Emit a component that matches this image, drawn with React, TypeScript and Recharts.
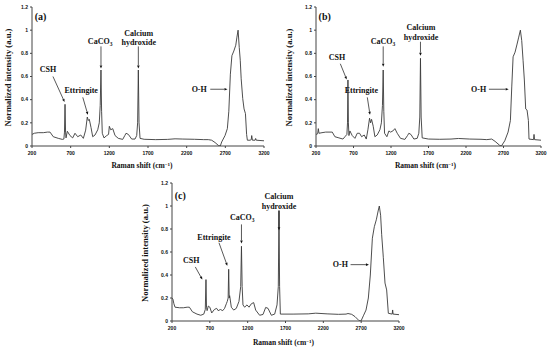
import { LineChart, Line, XAxis, YAxis, ReferenceLine, ReferenceDot } from 'recharts'

const SHIFT_TICKS = [200, 700, 1200, 1700, 2200, 2700, 3200]
const INTENSITY_TICKS = [0, 0.2, 0.4, 0.6, 0.8, 1, 1.2]

// Raman shift (cm-1), normalized intensity
const spectrumA: [number, number][] = [
  [200, 0.1], [230, 0.11], [280, 0.115], [346, 0.115], [400, 0.12], [433, 0.12], [475, 0.08],
  [540, 0.066], [592, 0.057], [612, 0.06], [620, 0.12], [627, 0.36], [634, 0.12], [640, 0.07],
  [657, 0.127], [691, 0.09], [726, 0.07], [756, 0.11], [791, 0.08], [830, 0.095], [864, 0.066],
  [894, 0.137], [915, 0.25], [928, 0.22], [941, 0.23], [963, 0.16], [985, 0.08], [1015, 0.095],
  [1050, 0.14], [1070, 0.2], [1082, 0.35], [1092, 0.656], [1100, 0.3], [1109, 0.11], [1131, 0.07],
  [1166, 0.09], [1190, 0.1], [1200, 0.17], [1218, 0.14], [1244, 0.15], [1274, 0.09], [1316, 0.066],
  [1373, 0.057], [1400, 0.09], [1416, 0.11], [1446, 0.1], [1489, 0.06], [1532, 0.06], [1554, 0.09],
  [1566, 0.2], [1575, 0.656], [1584, 0.2], [1597, 0.066], [1650, 0.058], [1800, 0.055], [1950, 0.057],
  [2050, 0.062], [2150, 0.06], [2300, 0.058], [2420, 0.055], [2480, 0.055], [2523, 0.05], [2567, 0.03],
  [2610, 0.005], [2635, 0], [2653, 0.035], [2696, 0.09], [2726, 0.15], [2745, 0.3], [2765, 0.62],
  [2785, 0.78], [2810, 0.82], [2835, 0.87], [2850, 0.94], [2865, 1.0], [2880, 0.85], [2893, 0.74],
  [2905, 0.58], [2925, 0.41], [2942, 0.32], [2960, 0.28], [2975, 0.1], [2985, 0.05], [3020, 0.05],
  [3035, 0.055], [3041, 0.09], [3050, 0.05], [3085, 0.05], [3092, 0.065], [3100, 0.05], [3200, 0.045],
]

const spectrumB: [number, number][] = [
  [200, 0.1], [222, 0.105], [231, 0.15], [240, 0.11], [280, 0.115], [328, 0.12], [417, 0.12],
  [452, 0.08], [506, 0.07], [559, 0.06], [586, 0.08], [612, 0.1], [620, 0.2], [626, 0.57], [632, 0.2],
  [639, 0.09], [652, 0.13], [683, 0.09], [719, 0.066], [750, 0.11], [781, 0.11], [808, 0.08],
  [843, 0.095], [870, 0.06], [892, 0.14], [914, 0.24], [928, 0.2], [941, 0.23], [963, 0.17],
  [985, 0.08], [1016, 0.095], [1052, 0.14], [1072, 0.2], [1086, 0.35], [1096, 0.656], [1104, 0.3],
  [1114, 0.11], [1145, 0.08], [1172, 0.13], [1194, 0.12], [1225, 0.13], [1252, 0.15], [1283, 0.11],
  [1327, 0.066], [1385, 0.057], [1420, 0.09], [1438, 0.11], [1465, 0.1], [1505, 0.06], [1549, 0.066],
  [1571, 0.11], [1584, 0.25], [1593, 0.757], [1602, 0.25], [1616, 0.07], [1700, 0.06], [1850, 0.058],
  [2000, 0.06], [2100, 0.065], [2250, 0.06], [2400, 0.058], [2477, 0.055], [2543, 0.06], [2588, 0.04],
  [2650, 0.005], [2672, 0], [2717, 0.045], [2761, 0.12], [2792, 0.22], [2810, 0.51], [2828, 0.77],
  [2854, 0.81], [2881, 0.88], [2903, 0.94], [2925, 1.0], [2943, 0.91], [2961, 0.74], [2978, 0.57],
  [2996, 0.32], [3014, 0.31], [3032, 0.22], [3040, 0.06], [3100, 0.055], [3107, 0.1], [3114, 0.055],
  [3200, 0.05],
]

const spectrumC: [number, number][] = [
  [200, 0.2], [212, 0.19], [225, 0.15], [240, 0.12], [300, 0.115], [350, 0.115], [400, 0.12],
  [430, 0.12], [470, 0.08], [530, 0.06], [580, 0.05], [620, 0.06], [640, 0.1], [649, 0.36],
  [656, 0.12], [664, 0.09], [680, 0.13], [700, 0.12], [725, 0.07], [760, 0.1], [790, 0.11],
  [810, 0.09], [840, 0.1], [870, 0.09], [895, 0.11], [918, 0.15], [930, 0.17], [942, 0.2],
  [949, 0.45], [956, 0.2], [962, 0.22], [984, 0.12], [1015, 0.095], [1050, 0.11], [1085, 0.17],
  [1108, 0.3], [1118, 0.65], [1127, 0.3], [1138, 0.14], [1160, 0.12], [1191, 0.14], [1218, 0.12],
  [1249, 0.15], [1279, 0.16], [1306, 0.095], [1358, 0.05], [1403, 0.057], [1438, 0.118], [1469, 0.11],
  [1513, 0.05], [1557, 0.06], [1588, 0.14], [1605, 0.3], [1614, 0.96], [1622, 0.3], [1632, 0.06],
  [1800, 0.06], [2000, 0.062], [2100, 0.068], [2250, 0.062], [2400, 0.058], [2500, 0.06],
  [2526, 0.065], [2575, 0.058], [2619, 0.038], [2672, 0.003], [2698, 0], [2729, 0.045], [2764, 0.095],
  [2795, 0.2], [2821, 0.4], [2848, 0.72], [2874, 0.82], [2900, 0.88], [2927, 0.965], [2940, 1.0],
  [2957, 0.92], [2971, 0.75], [2993, 0.55], [3015, 0.33], [3037, 0.27], [3059, 0.067], [3110, 0.06],
  [3116, 0.096], [3122, 0.06], [3200, 0.055],
]

type Note = { x: number; y: number; text: string }
type Arrow = [[number, number], [number, number]]

const notesA: Note[] = [
  { x: 310, y: 1.12, text: '(a)' }, { x: 406, y: 0.66, text: 'CSH' }, { x: 836, y: 0.48, text: 'Ettringite' },
  { x: 1081, y: 0.9, text: 'CaCO3' }, { x: 1580, y: 0.97, text: 'Calcium' }, { x: 1580, y: 0.89, text: 'hydroxide' },
  { x: 2362, y: 0.49, text: 'O-H' },
]
const arrowsA: Arrow[] = [
  [[471, 0.6], [621, 0.38]], [[857, 0.42], [922, 0.27]], [[1092, 0.86], [1092, 0.67]],
  [[1575, 0.86], [1575, 0.67]], [[2505, 0.49], [2728, 0.49]],
]

const notesB: Note[] = [
  { x: 316, y: 1.12, text: '(b)' }, { x: 480, y: 0.766, text: 'CSH' }, { x: 804, y: 0.48, text: 'Ettringite' },
  { x: 1093, y: 0.9, text: 'CaCO3' }, { x: 1600, y: 1.02, text: 'Calcium' }, { x: 1600, y: 0.94, text: 'hydroxide' },
  { x: 2369, y: 0.49, text: 'O-H' },
]
const arrowsB: Arrow[] = [
  [[524, 0.71], [609, 0.575]], [[884, 0.42], [920, 0.27]], [[1096, 0.86], [1096, 0.685]],
  [[1593, 0.9], [1593, 0.78]], [[2505, 0.49], [2769, 0.49]],
]

const notesC: Note[] = [
  { x: 310, y: 1.095, text: '(c)' }, { x: 455, y: 0.53, text: 'CSH' }, { x: 755, y: 0.73, text: 'Ettringite' },
  { x: 1129, y: 0.9, text: 'CaCO3' }, { x: 1614, y: 1.08, text: 'Calcium' }, { x: 1614, y: 1.0, text: 'hydroxide' },
  { x: 2425, y: 0.49, text: 'O-H' },
]
const arrowsC: Arrow[] = [
  [[508, 0.47], [601, 0.36]], [[821, 0.68], [931, 0.48]], [[1118, 0.84], [1118, 0.675]],
  [[1614, 0.96], [1614, 0.79]], [[2560, 0.49], [2803, 0.49]],
]

const SERIF = "'Times New Roman', 'Liberation Serif', serif"
const INK = '#111'
const AXIS = '#444'

const arrowShape = (p: any) => {
  const { x1, y1, x2, y2 } = p
  if ([x1, y1, x2, y2].some(v => typeof v !== 'number')) return <g />
  const a = Math.atan2(y2 - y1, x2 - x1)
  const len = 3, w = 1.3
  const bx = x2 - len * Math.cos(a), by = y2 - len * Math.sin(a)
  const pts = `${x2},${y2} ${bx - w * Math.sin(a)},${by + w * Math.cos(a)} ${bx + w * Math.sin(a)},${by - w * Math.cos(a)}`
  return (
    <g>
      <line x1={x1} y1={y1} x2={bx} y2={by} stroke={INK} strokeWidth={0.7} />
      <polygon points={pts} fill={INK} />
    </g>
  )
}

const noteShape = (text: string) => (p: any) => {
  const isTag = text.startsWith('(')
  return (
    <text x={p.cx} y={p.cy} textAnchor="middle" dominantBaseline="central"
      fontFamily={SERIF} fontWeight={700} fontSize={isTag ? 10 : 8} fill={INK}>
      {text === 'CaCO3' ? <>CaCO<tspan dy={2} fontSize={5.5}>3</tspan></> : text}
    </text>
  )
}

const xTitle = (dx: number, dy: number) => (p: any) => {
  const vb = p.viewBox
  if (!vb) return null
  return (
    <text x={vb.x + vb.width / 2 + dx} y={vb.y + dy} textAnchor="middle"
      fontFamily={SERIF} fontWeight={700} fontSize={7.5} fill={INK}>
      Raman shift (cm<tspan dy={-2.5} fontSize={5}>−1</tspan><tspan dy={2.5}>)</tspan>
    </text>
  )
}

const yTitle = (cx: number) => (p: any) => {
  const vb = p.viewBox
  if (!vb) return null
  const cy = vb.y + vb.height / 2 + 1
  return (
    <text x={cx} y={cy} transform={`rotate(-90, ${cx}, ${cy})`} textAnchor="middle" dominantBaseline="central"
      fontFamily={SERIF} fontWeight={700} fontSize={8.6} fill={INK}>
      Normalized intensity (a.u.)
    </text>
  )
}

const tickFont = { fontSize: 5, fontWeight: 700, fill: INK, fontFamily: "'Liberation Sans', Arial, sans-serif" }

interface PanelProps {
  spectrum: [number, number][]
  notes: Note[]
  arrows: Arrow[]
  left: number
  top: number
  width: number
  height: number
  marginTop: number
  marginRight: number
  yAxisWidth: number
  xAxisHeight: number
  yTitleX: number
  xTitleDx: number
  xTitleDy: number
}

function Panel(props: PanelProps) {
  const rows = props.spectrum.map(([shift, intensity]) => ({ shift, intensity }))
  return (
    <div style={{ position: 'absolute', left: props.left, top: props.top }}>
      <LineChart width={props.width} height={props.height} data={rows}
        margin={{ top: props.marginTop, right: props.marginRight, left: 0, bottom: 0 }}>
        <XAxis type="number" dataKey="shift" domain={[200, 3200]} ticks={SHIFT_TICKS} allowDataOverflow
          height={props.xAxisHeight} tickSize={2} tickMargin={3} tick={tickFont}
          axisLine={{ stroke: AXIS }} tickLine={{ stroke: AXIS }} label={xTitle(props.xTitleDx, props.xTitleDy)} />
        <XAxis xAxisId="top" orientation="top" type="number" domain={[200, 3200]} height={0}
          tick={false} tickLine={false} axisLine={{ stroke: AXIS }} />
        <YAxis type="number" domain={[0, 1.2]} ticks={INTENSITY_TICKS} allowDataOverflow width={props.yAxisWidth}
          tickSize={2} tickMargin={2} tick={tickFont} axisLine={{ stroke: AXIS }} tickLine={{ stroke: AXIS }}
          label={yTitle(props.yTitleX)} />
        <YAxis yAxisId="right" orientation="right" type="number" domain={[0, 1.2]} width={0}
          tick={false} tickLine={false} axisLine={{ stroke: AXIS }} />
        <Line type="linear" dataKey="intensity" stroke="#3a3a3a" strokeWidth={0.9} dot={false}
          activeDot={false} isAnimationActive={false} />
        {props.arrows.map(([from, to], i) => (
          <ReferenceLine key={'a' + i} segment={[{ x: from[0], y: from[1] }, { x: to[0], y: to[1] }]}
            shape={arrowShape} ifOverflow="visible" />
        ))}
        {props.notes.map((n, i) => (
          <ReferenceDot key={'n' + i} x={n.x} y={n.y} r={0} shape={noteShape(n.text)} ifOverflow="visible" />
        ))}
      </LineChart>
    </div>
  )
}

export default function App() {
  return (
    <div style={{ position: 'absolute', left: 0, top: 0, width: 550, height: 349, background: '#fff', overflow: 'hidden' }}>
      <Panel spectrum={spectrumA} notes={notesA} arrows={arrowsA} left={0} top={0} width={275} height={175}
        marginTop={7} marginRight={11} yAxisWidth={32} xAxisHeight={29} yTitleX={8} xTitleDx={-6} xTitleDy={22} />
      <Panel spectrum={spectrumB} notes={notesB} arrows={arrowsB} left={275} top={0} width={275} height={175}
        marginTop={7} marginRight={9} yAxisWidth={41} xAxisHeight={29} yTitleX={14} xTitleDx={-3} xTitleDy={22} />
      <Panel spectrum={spectrumC} notes={notesC} arrows={arrowsC} left={130} top={175} width={290} height={174}
        marginTop={8} marginRight={21} yAxisWidth={42} xAxisHeight={28} yTitleX={15} xTitleDx={-2} xTitleDy={24} />
    </div>
  )
}
